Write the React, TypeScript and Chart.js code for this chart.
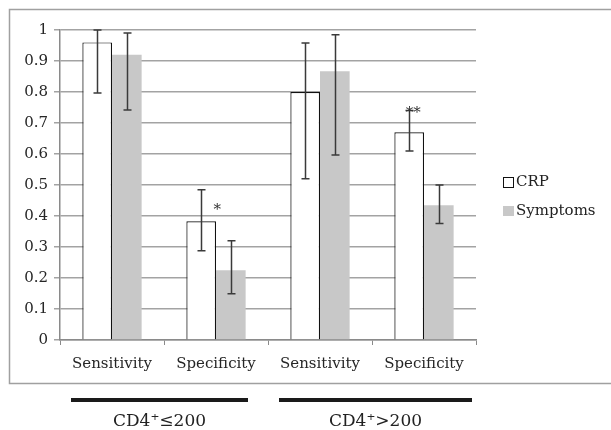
import React, { useEffect, useRef } from "react";
import { Chart, registerables } from "chart.js";

Chart.register(...registerables);

const categories = ["Sensitivity", "Specificity", "Sensitivity", "Specificity"];
const crpValues = [0.96, 0.383, 0.8, 0.67];
const crpLow = [0.797, 0.288, 0.52, 0.61];
const crpHigh = [1.0, 0.485, 0.958, 0.74];
const symptomValues = [0.92, 0.225, 0.867, 0.435];
const symptomLow = [0.742, 0.149, 0.597, 0.376];
const symptomHigh = [0.99, 0.32, 0.985, 0.5];
const crpSignificance = ["", "*", "", "**"];
const groupLabels = ["CD4\u207A\u2264200", "CD4\u207A>200"];
const groupMembers = [[0, 1], [2, 3]];
const yTicks = [0, 0.1, 0.2, 0.3, 0.4, 0.5, 0.6, 0.7, 0.8, 0.9, 1];

const FONT = "'DejaVu Serif', serif";

const errLows = [crpLow, symptomLow];
const errHighs = [crpHigh, symptomHigh];

const decorPlugin = {
  id: "decor",
  beforeDraw(chart: any) {
    const ctx = chart.ctx;
    ctx.save();
    ctx.fillStyle = "#ffffff";
    ctx.fillRect(0, 0, chart.width, chart.height);
    ctx.strokeStyle = "#a0a0a0";
    ctx.lineWidth = 1.5;
    ctx.beginPath();
    ctx.moveTo(chart.width + 2, 9.5);
    ctx.lineTo(9.5, 9.5);
    ctx.lineTo(9.5, 383.5);
    ctx.lineTo(chart.width + 2, 383.5);
    ctx.stroke();
    ctx.restore();
  },
  afterDatasetsDraw(chart: any) {
    const ctx = chart.ctx;
    const y = chart.scales.y;
    const x = chart.scales.x;
    ctx.save();
    // error bars
    ctx.strokeStyle = "#3a3a3a";
    ctx.lineWidth = 1.5;
    chart.data.datasets.forEach((ds: any, di: number) => {
      const meta = chart.getDatasetMeta(di);
      meta.data.forEach((bar: any, i: number) => {
        const bx = Math.round(bar.x) + 0.5;
        const yl = y.getPixelForValue(errLows[di][i]);
        const yh = y.getPixelForValue(errHighs[di][i]);
        ctx.beginPath();
        ctx.moveTo(bx, yl);
        ctx.lineTo(bx, yh);
        ctx.moveTo(bx - 4, yl);
        ctx.lineTo(bx + 4, yl);
        ctx.moveTo(bx - 4, yh);
        ctx.lineTo(bx + 4, yh);
        ctx.stroke();
      });
    });
    // significance marks
    const meta0 = chart.getDatasetMeta(0);
    const starOffsets: Record<string, [number, number]> = { "*": [16, 20], "**": [4, 3] };
    ctx.fillStyle = "#333";
    ctx.font = `15px ${FONT}`;
    ctx.textAlign = "center";
    ctx.textBaseline = "middle";
    crpSignificance.forEach((s, i) => {
      if (!s) return;
      const bar: any = meta0.data[i];
      const off = starOffsets[s] || [0, -8];
      ctx.fillText(s, bar.x + off[0], y.getPixelForValue(crpHigh[i]) + off[1]);
    });
    // legend
    const lx = chart.chartArea.right + 27;
    ctx.font = `15px ${FONT}`;
    ctx.textAlign = "left";
    ctx.textBaseline = "middle";
    ctx.fillStyle = "#ffffff";
    ctx.strokeStyle = "#111";
    ctx.lineWidth = 1;
    ctx.fillRect(lx, 177, 10, 10);
    ctx.strokeRect(lx + 0.5, 177.5, 10, 10);
    ctx.fillStyle = "#222";
    ctx.fillText(chart.data.datasets[0].label, lx + 13, 182);
    ctx.fillStyle = "#c8c8c8";
    ctx.fillRect(lx, 206, 11, 10);
    ctx.fillStyle = "#222";
    ctx.fillText(chart.data.datasets[1].label, lx + 13, 211);
    // group bars
    const groupOffsets = [[-41, 32], [-41, 48]];
    groupMembers.forEach((g, gi) => {
      const x0 = x.getPixelForValue(g[0]) + groupOffsets[gi][0];
      const x1 = x.getPixelForValue(g[g.length - 1]) + groupOffsets[gi][1];
      ctx.fillStyle = "#1a1a1a";
      ctx.fillRect(x0, 398, x1 - x0, 4);
      ctx.font = `17px ${FONT}`;
      ctx.textAlign = "center";
      ctx.textBaseline = "middle";
      ctx.fillStyle = "#222";
      ctx.fillText(groupLabels[gi], (x0 + x1) / 2, 422);
    });
    ctx.restore();
  },
};

export default function App() {
  const ref = useRef<HTMLCanvasElement | null>(null);
  useEffect(() => {
    if (!ref.current) return;
    const chart = new Chart(ref.current, {
      type: "bar",
      data: {
        labels: categories,
        datasets: [
          {
            label: "CRP",
            data: crpValues,
            backgroundColor: "#ffffff",
            borderColor: "#111111",
            borderWidth: 1.2,
            categoryPercentage: 0.57,
            barPercentage: 1,
          },
          {
            label: "Symptoms",
            data: symptomValues,
            backgroundColor: "#c8c8c8",
            borderWidth: 0,
            categoryPercentage: 0.57,
            barPercentage: 1,
          },
        ],
      },
      options: {
        responsive: false,
        animation: false,
        layout: { padding: { top: 30, right: 135, left: 0, bottom: 0 } },
        plugins: {
          legend: { display: false },
          tooltip: { enabled: false },
        },
        scales: {
          x: {
            grid: {
              drawOnChartArea: false,
              drawTicks: true,
              tickLength: 5,
              color: "#8a8a8a",
              offset: true,
            },
            border: { color: "#8a8a8a", width: 1.5 },
            ticks: {
              font: { family: FONT, size: 15 },
              color: "#262626",
              padding: 10,
            },
            afterFit: (s: any) => {
              s.height = 90;
            },
          },
          y: {
            min: 0,
            max: 1,
            afterBuildTicks: (s: any) => {
              s.ticks = yTicks.map((v) => ({ value: v }));
            },
            grid: {
              color: "#a3a3a3",
              lineWidth: 1.5,
              tickLength: 6,
              drawTicks: true,
            },
            border: { color: "#8a8a8a", width: 1.5 },
            ticks: {
              font: { family: FONT, size: 15 },
              color: "#262626",
              padding: 6,
              callback: (v: any) => String(Math.round(Number(v) * 10) / 10),
            },
            afterFit: (s: any) => {
              s.width = 60;
            },
          },
        },
      },
      plugins: [decorPlugin],
    });
    return () => chart.destroy();
  }, []);
  return (
    <div style={{ position: "absolute", left: 0, top: 0, width: 611, height: 430 }}>
      <canvas ref={ref} width={611} height={430} style={{ width: 611, height: 430 }} />
    </div>
  );
}
